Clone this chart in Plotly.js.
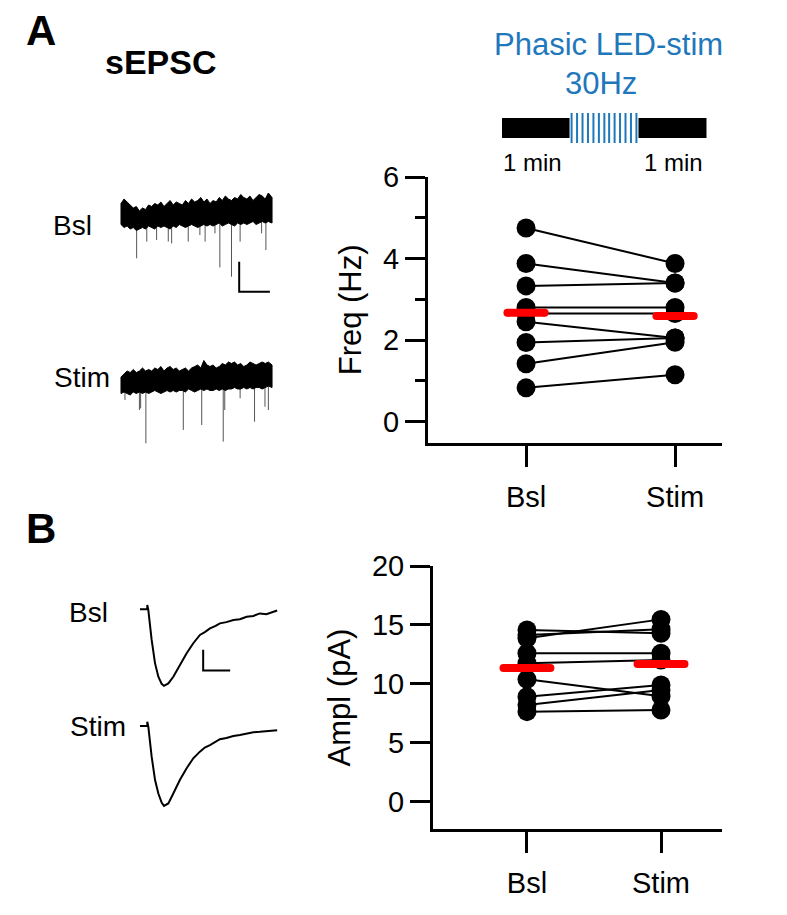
<!DOCTYPE html>
<html>
<head>
<meta charset="utf-8">
<script src="https://cdn.plot.ly/plotly-3.0.1.min.js"></script>
<style>html,body{margin:0;padding:0;background:#fff}#chart{width:787px;height:915px}</style>
</head>
<body>
<div id="chart"></div>
<script>
// ---------- DATA ----------
const conditions = ['Bsl', 'Stim'];
// Panel A: sEPSC frequency (Hz), one value per cell
const freqBsl  = [4.75, 3.88, 3.33, 2.80, 2.65, 2.45, 1.94, 1.42, 0.83];
const freqStim = [3.88, 3.40, 3.40, 2.80, 2.65, 2.05, 2.05, 1.95, 1.15];
// Panel B: sEPSC amplitude (pA), one value per cell
const amplBsl  = [14.57, 14.14, 13.86, 12.59, 11.74, 10.38, 8.91, 8.20, 7.64];
const amplStim = [14.29, 14.63, 15.47, 12.59, 12.02, 8.95, 9.90, 9.48, 7.78];
const freqTicks = [0, 2, 4, 6];
const amplTicks = [0, 5, 10, 15, 20];

// Example sweep traces (time s, current pA): noise envelope + events
const envT = [0, 0.1, 0.2, 0.3, 0.4, 0.5, 0.6, 0.7, 0.8, 0.9, 1.0, 1.1, 1.2, 1.3, 1.4, 1.5, 1.6, 1.7, 1.8, 1.9, 2.0, 2.1, 2.2, 2.3, 2.4, 2.5, 2.6, 2.7, 2.8, 2.9, 3.0, 3.1, 3.2, 3.3, 3.4, 3.5, 3.6, 3.7, 3.8, 3.9, 4.0, 4.1, 4.2, 4.3, 4.4, 4.5, 4.6, 4.7, 4.8, 4.92];
const bslUpI  = [7, 10, 8, 6, 4, 5, 2, 4, 3, 6, 5, 7, 6, 8, 5, 7, 9, 6, 8, 7, 6, 9, 7, 10, 8, 9, 11, 8, 10, 7, 9, 8, 11, 9, 12, 10, 9, 11, 10, 13, 11, 10, 12, 9, 11, 13, 12, 10, 14, 11];
const bslLoI  = [-7, -9, -8, -10, -9, -11, -10, -9, -10, -8, -9, -10, -8, -9, -8, -9, -10, -8, -9, -7, -8, -9, -8, -7, -8, -9, -8, -7, -8, -7, -8, -7, -6, -8, -7, -6, -7, -8, -6, -7, -6, -7, -6, -5, -7, -6, -5, -6, -5, -6];
const stimUpI = [2, 4, 6, 5, 7, 5, 6, 8, 6, 7, 6, 8, 7, 9, 6, 8, 9, 7, 8, 6, 7, 8, 6, 8, 9, 10, 8, 13, 10, 9, 10, 8, 9, 11, 10, 12, 11, 12, 10, 11, 9, 10, 12, 11, 10, 11, 12, 11, 12, 10];
const stimLoI = [-9, -8, -9, -10, -8, -9, -8, -9, -8, -9, -8, -7, -8, -9, -8, -7, -8, -7, -8, -7, -7, -8, -6, -7, -8, -7, -6, -7, -6, -7, -7, -6, -7, -6, -7, -6, -6, -5, -6, -6, -5, -6, -5, -6, -5, -5, -6, -5, -4, -5];
const bslEvT = [0.51, 0.84, 1.16, 1.54, 1.65, 2.19, 2.57, 2.74, 3.06, 3.22, 3.60, 3.88, 4.58, 4.72];
const bslEvI = [-29.5, -18.4, -17.3, -18.4, -19.6, -18.4, -14.0, -18.4, -12.9, -35.6, -41.8, -18.4, -12.9, -24.0];
const stimEvT = [0.13, 0.60, 0.64, 0.81, 2.03, 2.63, 3.33, 3.38, 3.88, 4.35, 4.69, 4.80];
const stimEvI = [-13.3, -20.0, -18.9, -42.2, -33.3, -30.0, -41.1, -20.0, -12.2, -27.8, -17.8, -20.0];
const sweepBarT = [3.85, 3.85, 4.85];   // scale bar: 20 pA, 1 s
const sweepBarI = [-31.8, -51.8, -51.8];

// Averaged sEPSC waveforms (time ms, current pA)
const epscT = [0, 1.35, 1.35, 1.54, 2.16, 2.78, 3.40, 4.01, 4.44, 5.25, 6.17, 7.40, 8.64, 9.87, 11.1, 12.0, 12.96, 14.0, 14.8, 16.0, 17.3, 18.5, 19.75, 21.0, 22.2, 23.4, 24.7, 25.4];
const epscBslI  = [0, 0, 1.04, -0.17, -7.4, -13.0, -16.3, -18.0, -18.5, -17.9, -16.3, -13.5, -10.6, -8.2, -6.2, -5.5, -4.6, -4.0, -3.4, -3.1, -2.6, -2.4, -1.8, -1.6, -1.0, -1.2, -0.6, -0.3];
const epscStimI = [0, 0, 1.04, -0.16, -7.4, -13.0, -16.3, -18.5, -19.3, -18.7, -16.3, -13.0, -10.2, -7.8, -6.2, -5.2, -4.6, -3.8, -3.2, -2.9, -2.4, -2.2, -1.9, -1.5, -1.4, -1.3, -1.1, -1.0];
const epscBarT = [11.7, 11.7, 16.7];     // scale bar: 5 pA, 5 ms
const epscBarI = [-9.8, -14.8, -14.8];

// Stimulation protocol (minutes)
const protoBlockStart = [0, 2];
const protoBlockLen = [0.99, 1.0];
const pulseTimes = [1.02, 1.10, 1.18, 1.26, 1.34, 1.42, 1.50, 1.57, 1.65, 1.73, 1.81, 1.89, 1.97];

// ---------- HELPERS ----------
const W = 787, H = 915;
const FONT = 'Liberation Sans, Arial, sans-serif';
const BLUE = '#1f78bb';
const px = v => v / W;
const py = v => 1 - v / H;
const mean = a => a.reduce((s, v) => s + v, 0) / a.length;

const traces = [];

function pairPanel(bsl, stim, xa, ya, halfBar) {
  for (let i = 0; i < bsl.length; i++) {
    traces.push({x: [0, 1], y: [bsl[i], stim[i]], xaxis: xa, yaxis: ya, mode: 'lines',
      line: {color: 'black', width: 2}, hoverinfo: 'skip', showlegend: false});
  }
  const xs = [], ys = [];
  for (let i = 0; i < bsl.length; i++) { xs.push(0, 1); ys.push(bsl[i], stim[i]); }
  traces.push({x: xs, y: ys, xaxis: xa, yaxis: ya, mode: 'markers',
    marker: {color: 'black', size: 19, line: {width: 0}}, showlegend: false});
  const mb = mean(bsl), ms = mean(stim);
  traces.push({x: [-halfBar, halfBar, null, 1 - halfBar, 1 + halfBar], y: [mb, mb, null, ms, ms],
    xaxis: xa, yaxis: ya, mode: 'lines+markers', line: {color: '#ff0000', width: 8},
    marker: {color: '#ff0000', size: 8, line: {width: 0}}, showlegend: false});
}
pairPanel(freqBsl, freqStim, 'x', 'y', 0.125);
pairPanel(amplBsl, amplStim, 'x2', 'y2', 0.175);

function sweep(t, upI, loI, evT, evI, xa, ya) {
  const xs = t.concat(t.slice().reverse());
  const ys = upI.concat(loI.slice().reverse());
  xs.push(t[0]); ys.push(upI[0]);
  const ex = [], ey = [];
  for (let i = 0; i < evT.length; i++) { ex.push(evT[i], evT[i], null); ey.push(0, evI[i], null); }
  traces.push({x: ex, y: ey, xaxis: xa, yaxis: ya, mode: 'lines', line: {color: '#555', width: 1}, showlegend: false, hoverinfo: 'skip'});
  traces.push({x: xs, y: ys, xaxis: xa, yaxis: ya, mode: 'lines', fill: 'toself', fillcolor: 'black',
    line: {color: 'black', width: 1}, showlegend: false, hoverinfo: 'skip'});
}
sweep(envT, bslUpI, bslLoI, bslEvT, bslEvI, 'x3', 'y3');
sweep(envT, stimUpI, stimLoI, stimEvT, stimEvI, 'x4', 'y4');
traces.push({x: sweepBarT, y: sweepBarI, xaxis: 'x3', yaxis: 'y3', mode: 'lines', line: {color: 'black', width: 2}, showlegend: false});

traces.push({x: epscT, y: epscBslI, xaxis: 'x5', yaxis: 'y5', mode: 'lines', line: {color: 'black', width: 2}, showlegend: false});
traces.push({x: epscT, y: epscStimI, xaxis: 'x6', yaxis: 'y6', mode: 'lines', line: {color: 'black', width: 2}, showlegend: false});
traces.push({x: epscBarT, y: epscBarI, xaxis: 'x5', yaxis: 'y5', mode: 'lines', line: {color: 'black', width: 2}, showlegend: false});

traces.push({type: 'bar', orientation: 'h', y: [0, 0], x: protoBlockLen, base: protoBlockStart, width: 2,
  marker: {color: 'black', line: {width: 0}}, xaxis: 'x7', yaxis: 'y7', showlegend: false});
const pX = [], pY = [];
pulseTimes.forEach(t => { pX.push(t, t, null); pY.push(-1.5, 1.5, null); });
traces.push({x: pX, y: pY, xaxis: 'x7', yaxis: 'y7', mode: 'lines', line: {color: BLUE, width: 2}, showlegend: false});

// ---------- LAYOUT ----------
const tickFont = {family: FONT, size: 29, color: 'black'};
const catAxis = (dom, rng, anchor) => ({domain: dom, range: rng, anchor: anchor, tickmode: 'array', tickvals: [0, 1], ticktext: conditions,
  ticks: 'outside', ticklen: 21, tickwidth: 3, tickcolor: 'black', showline: true, linewidth: 3, linecolor: 'black',
  showgrid: false, zeroline: false, tickfont: tickFont, ticklabelstandoff: 5, automargin: false, fixedrange: true});
const valAxis = (dom, rng, anchor, tv, title) => ({domain: dom, range: rng, anchor: anchor, tickmode: 'array', tickvals: tv,
  ticks: 'outside', ticklen: 20, tickwidth: 3, tickcolor: 'black', showline: true, linewidth: 3, linecolor: 'black',
  showgrid: false, zeroline: false, tickfont: tickFont, automargin: false, fixedrange: true,
  title: {text: title, font: {family: FONT, size: 31, color: 'black'}, standoff: 13}});
const hidden = (dom, rng, anchor) => ({domain: dom, range: rng, anchor: anchor, visible: false, fixedrange: true});

const yTop = valAxis([py(442.7), py(177)], [-0.515, 6], 'x', freqTicks, 'Freq (Hz)');
yTop.minor = {dtick: 1, tick0: 0, ticks: 'outside', ticklen: 10, tickwidth: 3, tickcolor: 'black', showgrid: false};

const ann = (text, x, y, size, opts) => Object.assign({text: text, x: px(x), y: py(y), xref: 'paper', yref: 'paper',
  showarrow: false, xanchor: 'center', yanchor: 'middle', font: {family: FONT, size: size, color: 'black'}}, opts || {});

const layout = {
  width: W, height: H, margin: {l: 0, r: 0, t: 0, b: 0}, paper_bgcolor: 'white', plot_bgcolor: 'rgba(0,0,0,0)',
  showlegend: false, font: {family: FONT},
  xaxis: catAxis([px(428), px(722)], [-0.658, 1.315], 'y'),
  yaxis: yTop,
  xaxis2: catAxis([px(433), px(722)], [-0.701, 1.455], 'y2'),
  yaxis2: valAxis([py(829), py(566)], [-2.32, 20], 'x2', amplTicks, 'Ampl (pA)'),
  xaxis3: hidden([px(110), px(290)], [-0.358, 5.505], 'y3'),
  yaxis3: hidden([py(300), py(185)], [-57.33, 19.33], 'x3'),
  xaxis4: hidden([px(110), px(290)], [-0.358, 5.505], 'y4'),
  yaxis4: hidden([py(466), py(351)], [-57.33, 19.33], 'x4'),
  xaxis5: hidden([px(130), px(300)], [-1.85, 29.63], 'y5'),
  yaxis5: hidden([py(695), py(595)], [-20.7, 3.45], 'x5'),
  xaxis6: hidden([px(130), px(300)], [-1.85, 29.63], 'y6'),
  yaxis6: hidden([py(811.7), py(711.7)], [-20.7, 3.45], 'x6'),
  xaxis7: hidden([px(502), px(706.7)], [0, 3], 'y7'),
  yaxis7: hidden([py(146), py(110)], [-1.8, 1.8], 'x7'),
  annotations: [
    ann('<b>A</b>', 41, 30, 42),
    ann('<b>sEPSC</b>', 161, 62, 34),
    ann('<b>B</b>', 41, 528, 42),
    ann('Bsl', 72, 226, 28),
    ann('Stim', 82, 377, 28),
    ann('Bsl', 88, 612, 28),
    ann('Stim', 98, 726, 28),
    ann('Phasic LED-stim', 608, 44, 31, {font: {family: FONT, size: 31, color: BLUE}}),
    ann('30Hz', 601, 83, 31, {font: {family: FONT, size: 31, color: BLUE}}),
    ann('1 min', 532, 162, 24),
    ann('1 min', 673, 162, 24)
  ]
};

Plotly.newPlot('chart', traces, layout, {displayModeBar: false, staticPlot: true});
</script>
</body>
</html>
